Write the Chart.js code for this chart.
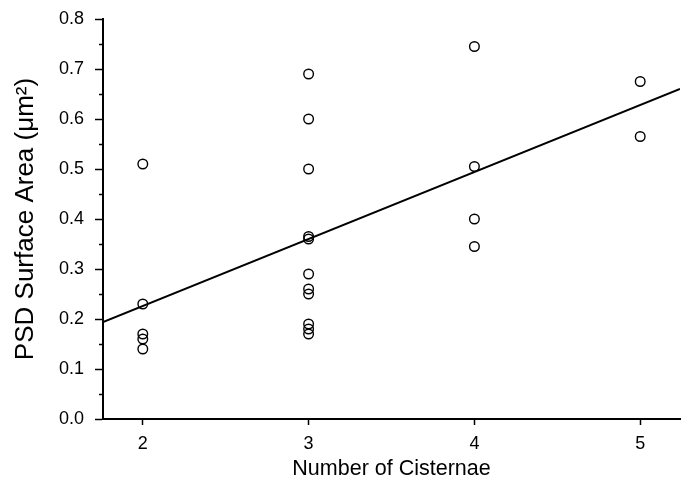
<!DOCTYPE html>
<html>
<head>
<meta charset="utf-8">
<script src="https://cdn.jsdelivr.net/npm/chart.js@4/dist/chart.umd.min.js"></script>
<style>
  html, body { margin: 0; padding: 0; background: #fff; }
  #wrap { width: 688px; height: 483px; }
</style>
</head>
<body>
<div id="wrap"><canvas id="c" width="688" height="483"></canvas></div>
<script>
// Data
const cisternae = [2, 2, 2, 2, 2,
                   3, 3, 3, 3, 3, 3, 3, 3, 3, 3, 3,
                   4, 4, 4, 4,
                   5, 5];
const psdArea = [0.51, 0.23, 0.17, 0.16, 0.14,
                 0.69, 0.60, 0.50, 0.365, 0.36, 0.29, 0.26, 0.25, 0.19, 0.18, 0.17,
                 0.745, 0.505, 0.40, 0.345,
                 0.675, 0.565];
const fitX = [1.76, 5.24];
const fitY = [0.194, 0.66];
const xTickValues = [2, 3, 4, 5];

const font = "'Liberation Sans', Arial, sans-serif";

const minorTicks = {
  id: 'minorTicks',
  afterDraw(chart) {
    const y = chart.scales.y;
    const ctx = chart.ctx;
    const left = chart.chartArea.left;
    ctx.save();
    ctx.strokeStyle = '#000';
    ctx.lineWidth = 1.5;
    const t = y.ticks;
    for (let i = 0; i < t.length - 1; i++) {
      const mid = (t[i].value + t[i + 1].value) / 2;
      const py = Math.round(y.getPixelForValue(mid)) + 0.5;
      ctx.beginPath();
      ctx.moveTo(left - 4, py);
      ctx.lineTo(left, py);
      ctx.stroke();
    }
    ctx.restore();
  }
};

new Chart(document.getElementById('c'), {
  type: 'scatter',
  data: {
    datasets: [
      {
        label: 'data',
        data: cisternae.map((x, i) => ({ x: x, y: psdArea[i] })),
        pointStyle: 'circle',
        pointRadius: 4.8,
        pointBorderWidth: 1.4,
        pointBorderColor: '#000',
        pointBackgroundColor: 'rgba(255,255,255,0)',
        showLine: false,
        order: 1
      },
      {
        label: 'fit',
        data: fitX.map((x, i) => ({ x: x, y: fitY[i] })),
        showLine: true,
        borderColor: '#000',
        borderWidth: 2,
        pointRadius: 0,
        fill: false,
        order: 2
      }
    ]
  },
  options: {
    responsive: false,
    animation: false,
    devicePixelRatio: 1,
    layout: { padding: { left: 0, right: 8, top: 19, bottom: 0 } },
    plugins: { legend: { display: false }, tooltip: { enabled: false } },
    scales: {
      x: {
        type: 'linear',
        min: fitX[0],
        max: fitX[1],
        afterBuildTicks: (s) => { s.ticks = xTickValues.map(v => ({ value: v })); },
        afterFit: (s) => { s.height = 64; s.paddingLeft = 0; s.paddingRight = 0; },
        grid: { drawOnChartArea: false, drawTicks: true, tickLength: 6, tickWidth: 1.5, tickColor: '#000' },
        border: { display: true, color: '#000', width: 2 },
        ticks: { color: '#000', font: { family: font, size: 18 }, padding: 8, maxRotation: 0,
                 callback: (v) => String(v) },
        title: { display: true, text: 'Number of Cisternae', color: '#000',
                 font: { family: font, size: 21.5 }, padding: { top: 0, bottom: 1 } }
      },
      y: {
        type: 'linear',
        min: 0,
        max: 0.8,
        ticks: { stepSize: 0.1, color: '#000', font: { family: font, size: 18 }, padding: 11,
                 callback: (v) => Number(v).toFixed(1) },
        afterFit: (s) => { s.width = 103; s.paddingTop = 0; s.paddingBottom = 0; },
        grid: { drawOnChartArea: false, drawTicks: true, tickLength: 8, tickWidth: 1.5, tickColor: '#000' },
        border: { display: true, color: '#000', width: 2 },
        title: { display: true, text: 'PSD Surface Area (\u03BCm\u00B2)', color: '#000',
                 font: { family: font, size: 26 }, padding: { top: 10, bottom: 0 } }
      }
    }
  },
  plugins: [minorTicks]
});
</script>
</body>
</html>
